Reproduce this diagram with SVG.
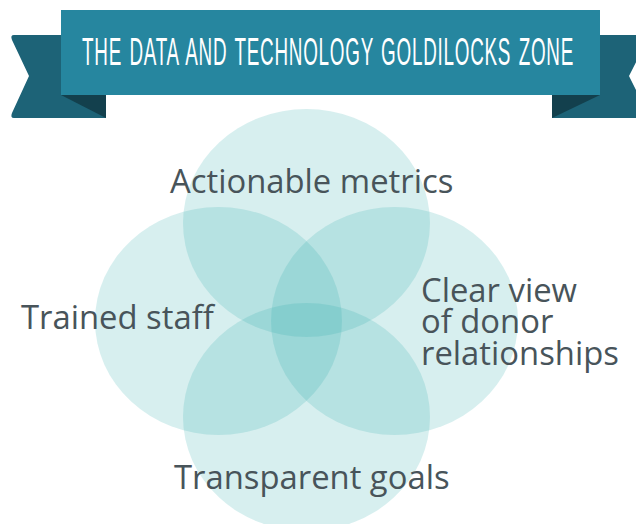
<svg xmlns="http://www.w3.org/2000/svg" width="636" height="524" viewBox="0 0 636 524">
  <style>
    .venn { fill: rgb(45,171,171); fill-opacity: 0.19; }
    .label { font-family: "Open Sans", "Noto Sans", sans-serif; font-size: 32.8px; fill: #48545a; }
    .title { font-family: "Liberation Sans", Arial, sans-serif; font-size: 38px; fill: #ffffff; letter-spacing: 1.5px; word-spacing: 3px; }
    .ribbon { fill: #1d6377; }
    .fold { fill: #13404d; }
    .banner { fill: #26869f; }
  </style>
  <rect width="636" height="524" fill="#ffffff"/>
  <g id="banner">
    <path class="ribbon" d="M14,35 L106,35 L106,118 L14,118 Q10,118 12,113 L29,76 L12,40 Q10,35 14,35 Z"/>
    <path class="fold" d="M61,95 L106,95 L106,118 Z"/>
    <path class="ribbon" d="M552,35 L650,35 L629,76 L650,118 L552,118 Z"/>
    <path class="fold" d="M600,95 L552,95 L552,118 Z"/>
    <rect class="banner" x="61" y="10" width="539" height="85"/>
    <text class="title" x="82" y="65" textLength="492" lengthAdjust="spacingAndGlyphs">THE DATA AND TECHNOLOGY GOLDILOCKS ZONE</text>
  </g>
  <g id="actionable-metrics">
    <ellipse class="venn" cx="306.5" cy="223" rx="123.5" ry="114"/>
  </g>
  <g id="trained-staff">
    <ellipse class="venn" cx="218.5" cy="321" rx="123.5" ry="114"/>
  </g>
  <g id="clear-view">
    <ellipse class="venn" cx="394.5" cy="321" rx="123.5" ry="114"/>
  </g>
  <g id="transparent-goals">
    <ellipse class="venn" cx="306.5" cy="417" rx="123.5" ry="114"/>
  </g>
  <g id="labels">
    <text class="label" x="170" y="193">Actionable metrics</text>
    <text class="label" x="21" y="329">Trained staff</text>
    <text class="label" x="421" y="302">Clear view</text>
    <text class="label" x="421" y="333">of donor</text>
    <text class="label" x="421" y="365">relationships</text>
    <text class="label" x="174" y="489">Transparent goals</text>
  </g>
</svg>
